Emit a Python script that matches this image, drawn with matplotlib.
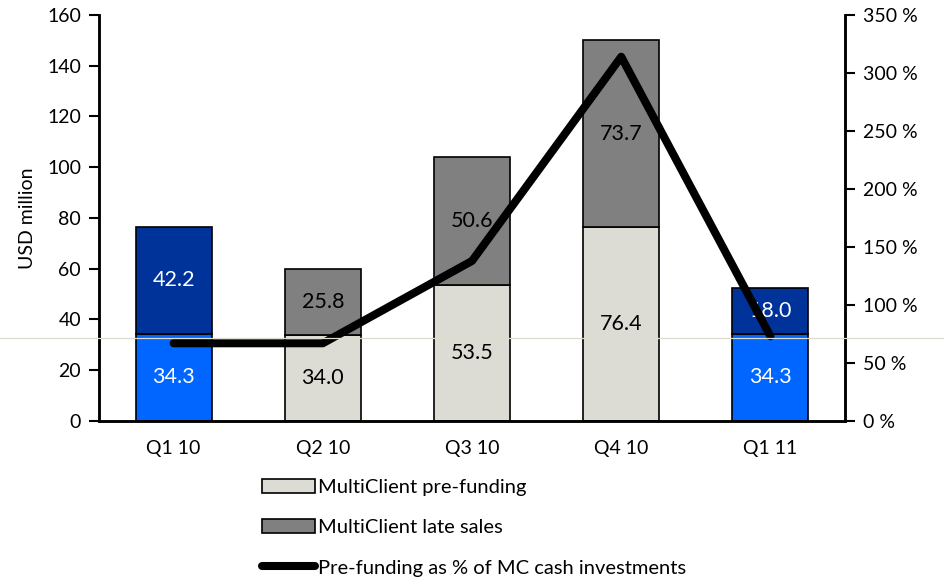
import matplotlib
matplotlib.use("Agg")
import matplotlib.pyplot as plt
from matplotlib.patches import Patch
from matplotlib.lines import Line2D
import numpy as np

plt.rcParams['font.family'] = ['Lato', 'DejaVu Sans']

# -----------------------------
# Data
# -----------------------------
quarters = ["Q1 10", "Q2 10", "Q3 10", "Q4 10", "Q1 11"]
prefunding = [34.3, 34.0, 53.5, 76.4, 34.3]
late_sales = [42.2, 25.8, 50.6, 73.7, 18.0]
prefunding_pct = [67, 67, 138, 314, 73]

# Q1 quarters are highlighted in blue
highlight = [True, False, False, False, True]

# -----------------------------
# Styles
# -----------------------------
LIGHT_GRAY = "#dcdcd5"
DARK_GRAY = "#808080"
BRIGHT_BLUE = "#0066ff"
NAVY = "#003399"

fig = plt.figure(figsize=(9.45, 5.77), dpi=100)
ax = fig.add_axes([0.1048, 0.2704, 0.7894, 0.7036])
ax2 = ax.twinx()

x = np.arange(len(quarters))
bottom_colors = [BRIGHT_BLUE if h else LIGHT_GRAY for h in highlight]
top_colors = [NAVY if h else DARK_GRAY for h in highlight]
text_colors = ["white" if h else "black" for h in highlight]

ax.bar(x, prefunding, width=0.51, color=bottom_colors, edgecolor="black", linewidth=1.2, zorder=2)
ax.bar(x, late_sales, width=0.51, bottom=prefunding, color=top_colors, edgecolor="black", linewidth=1.2, zorder=2)

for i in range(len(quarters)):
    ax.text(x[i], prefunding[i] / 2, f"{prefunding[i]:.1f}", ha="center", va="center",
            fontsize=15.5, color=text_colors[i], zorder=3)
    ax.text(x[i], prefunding[i] + late_sales[i] / 2, f"{late_sales[i]:.1f}", ha="center", va="center",
            fontsize=15.5, color=text_colors[i], zorder=3)

ax2.plot(x, prefunding_pct, color="black", linewidth=5.8, solid_capstyle="round",
         solid_joinstyle="round", zorder=5)

# axes limits and ticks
ax.set_xlim(-0.5, len(quarters) - 0.5)
ax.set_ylim(0, 160)
ax.set_yticks(range(0, 161, 20))
ax2.set_ylim(0, 350)
ax2.set_yticks(range(0, 351, 50))
ax2.set_yticklabels([f"{v} %" for v in range(0, 351, 50)])

ax.set_xticks(x)
ax.set_xticklabels(quarters)
ax.tick_params(axis="x", length=0, pad=14, labelsize=14)
ax.tick_params(axis="y", direction="out", length=7, width=1.5, labelsize=14, pad=6)
ax2.tick_params(axis="y", direction="out", length=7, width=1.5, labelsize=14, pad=6)
ax.set_ylabel("USD million", fontsize=14, labelpad=8)

for a in (ax, ax2):
    a.spines["top"].set_visible(False)
    for s in ("left", "right", "bottom"):
        a.spines[s].set_linewidth(1.8)
ax2.set_zorder(ax.get_zorder() + 1)
ax2.patch.set_visible(False)

# thin light rule that runs across the whole picture
fig.add_artist(Line2D([0, 1], [0.414, 0.414], transform=fig.transFigure,
                      color="#dcdcce", linewidth=0.9, zorder=10))

# legend
handles = [
    Patch(facecolor=LIGHT_GRAY, edgecolor="black", linewidth=1.2, label="MultiClient pre-funding"),
    Patch(facecolor=DARK_GRAY, edgecolor="black", linewidth=1.2, label="MultiClient late sales"),
    Line2D([0], [0], color="black", linewidth=5.8, solid_capstyle="round",
           label="Pre-funding as % of MC cash investments"),
]
fig.legend(handles=handles, loc="upper left", bbox_to_anchor=(0.277, 0.170),
           frameon=False, fontsize=14.5, handlelength=2.65, handletextpad=0.15,
           labelspacing=1.15, borderpad=0, borderaxespad=0)

fig.savefig("out.png", dpi=100)
